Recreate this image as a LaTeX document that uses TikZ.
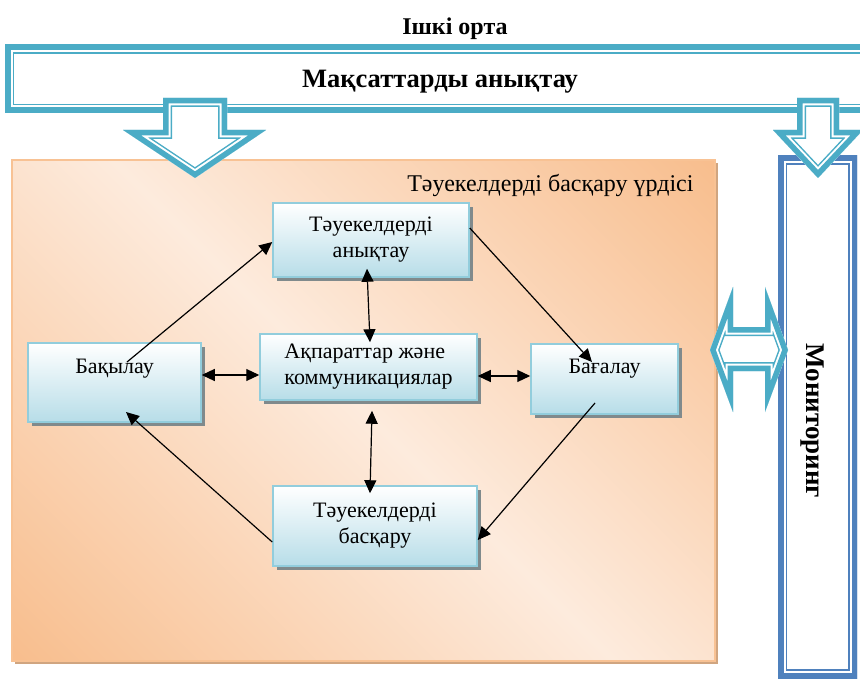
\documentclass[tikz,border=0pt]{standalone}
\usepackage{fontspec}
\setmainfont{Liberation Serif}
\usetikzlibrary{arrows.meta,shadows}

\definecolor{frameteal}{RGB}{75,172,198}
\definecolor{frameblue}{RGB}{79,129,189}
\definecolor{boxline}{RGB}{146,205,220}
\definecolor{boxfill}{RGB}{183,221,232}
\definecolor{boxshadow}{RGB}{128,138,140}
\definecolor{peachdark}{RGB}{248,190,142}
\definecolor{peachlight}{RGB}{253,235,221}
\definecolor{peachedge}{RGB}{248,194,148}
\definecolor{peachshadow}{RGB}{208,165,128}

\pgfdeclarehorizontalshading{peach}{100bp}{color(0bp)=(peachdark); color(15bp)=(peachdark); color(50bp)=(peachlight); color(85bp)=(peachdark); color(100bp)=(peachdark)}

% thick outer line, thin inner line
\newcommand{\dblframe}[2]{%
  \begin{scope}[line join=miter]
    \clip #2;
    \fill[white] #2;
    \draw[#1, line width=18pt] #2;
    \draw[white, line width=15pt] #2;
    \draw[#1, line width=11pt] #2;
  \end{scope}}

\begin{document}
\begin{tikzpicture}[x=1pt, y=-1pt,
  box/.style={draw=boxline, line width=1.5pt, top color=white, bottom color=boxfill, inner sep=0pt,
    font=\fontsize{22}{26}\selectfont,
    drop shadow={shadow xshift=4pt, shadow yshift=-4pt, fill=boxshadow, opacity=1}},
  link/.style={line width=1.2pt, arrows={-Triangle[length=13pt,width=12pt]}},
  twoway/.style={line width=1.2pt, arrows={Triangle[length=13pt,width=12pt]-Triangle[length=13pt,width=12pt]}}]
\useasboundingbox (0,0) rectangle (860,679);
\clip (0,0) rectangle (860,679);

% process area
\fill[peachshadow] (15,163) rectangle (718,664);
\path[shade, shading=peach, shading angle=45, draw=peachedge, line width=1.5pt] (12,160) rectangle (715,661);
\node[anchor=base east, font=\fontsize{24}{28}\selectfont] (proc) at (697,192) {Тәуекелдерді басқару үрдісі};

% process steps
\node (ident)[box, minimum width=196pt, minimum height=74pt, align=center] at (371,240) {Тәуекелдерді\\анықтау};
\node (info)[box, minimum width=217pt, minimum height=66pt, align=left] at (368.5,367) {Ақпараттар және\\коммуникациялар};
\node (ctrl)[box, minimum width=173pt, text height=30pt, text depth=49pt] at (114.5,382.5) {Бақылау};
\node (eval)[box, minimum width=147pt, text height=29pt, text depth=41pt] at (604.5,379) {Бағалау};
\node (manage)[box, minimum width=204pt, minimum height=80pt, align=center] at (375,526) {Тәуекелдерді\\басқару};

\draw[link] ([shift={(12.5,-20.5)}]ctrl.center) -- ([shift={(0,2)}]ident.west);
\draw[link] ([shift={(0,-12)}]ident.east) -- ([shift={(-12.5,-17)}]eval.center);
\draw[link] ([shift={(-9.5,24)}]eval.center) -- ([shift={(0,14)}]manage.east);
\draw[link] ([shift={(0,16)}]manage.west) -- ([shift={(11.5,29.5)}]ctrl.center);
\draw[twoway] ([shift={(0,-7.5)}]ctrl.east) -- ([shift={(0,8)}]info.west);
\draw[twoway] ([shift={(0,9)}]info.east) -- ([shift={(0,-3)}]eval.west);
\draw[twoway] ([shift={(-4,-9)}]ident.south) -- ([shift={(1.5,9)}]info.north);
\draw[twoway] ([shift={(3.5,10)}]info.south) -- ([shift={(-5,8)}]manage.north);

% goals banner
\node[anchor=base, font=\bfseries\fontsize{24}{28}\selectfont] (env) at (455,34.5) {Ішкі орта};
\dblframe{frameteal}{(5,45) rectangle (880,113)}
\node[anchor=base, font=\bfseries\fontsize{26.5}{31}\selectfont] (goal) at (440,88) {Мақсаттарды анықтау};
\dblframe{frameteal}{(163,98) -- (227,98) -- (227,130) -- (266,130) -- (195,178) -- (123,130) -- (163,130) -- cycle}

% monitoring
\dblframe{frameblue}{(778,156) rectangle (857,678)}
\node[rotate=-90, anchor=base, font=\bfseries\fontsize{27}{32}\selectfont] (mon) at (806,421) {Мониторинг};
\dblframe{frameteal}{(797,98) -- (839,98) -- (839,130) -- (863,130) -- (818,178) -- (773,130) -- (797,130) -- cycle}
\dblframe{frameteal}{(710,350) -- (733,287) -- (733,327) -- (765,327) -- (765,287) -- (788,350) -- (765,412) -- (765,371) -- (733,371) -- (733,412) -- cycle}
\end{tikzpicture}
\end{document}
